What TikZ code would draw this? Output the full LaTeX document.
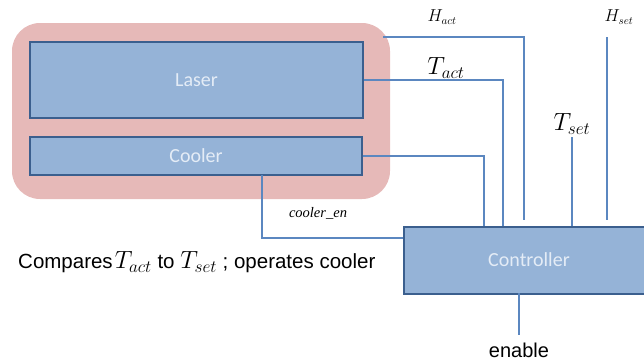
\documentclass[tikz,border=0pt]{standalone}
\usepackage{fontspec}
\setmainfont{Liberation Sans}
\newfontfamily\boxfont{Carlito}
\newfontfamily\labserif{Liberation Serif}
\definecolor{pinkfill}{HTML}{E6B9B8}
\definecolor{boxfill}{HTML}{95B3D7}
\definecolor{boxedge}{HTML}{3B5F8E}
\definecolor{wire}{HTML}{5B87C0}
\definecolor{boxtext}{HTML}{E4ECF6}
\newcommand{\bigmath}[1]{{\fontsize{24}{26}\selectfont$#1$}}
\begin{document}
\begin{tikzpicture}[x=1pt,y=-1pt,
  blockbox/.style={draw=boxedge,line width=1.8pt,fill=boxfill,inner sep=0pt,
    text=boxtext,font=\boxfont\fontsize{20}{24}\selectfont},
  wireline/.style={draw=wire,line width=1.2pt},
  smalllab/.style={font=\fontsize{16}{18}\selectfont,inner sep=0pt},
  biglab/.style={font=\fontsize{24}{26}\selectfont,inner sep=0pt}]
\useasboundingbox (0,0) rectangle (644,360);
% outer rounded housing
\node[fill=pinkfill,rounded corners=28pt,minimum width=378pt,minimum height=176pt,inner sep=0pt] (housing) at (201,111) {};
% blocks
\node[blockbox,minimum width=333pt,minimum height=76pt] (laser) at (196.5,80) {Laser};
\node[blockbox,minimum width=332pt,minimum height=38pt] (cooler) at (196,156) {Cooler};
\node[blockbox,minimum width=252pt,minimum height=67pt,anchor=north west] (ctrl) at (403,226) {};
\node[text=boxtext,font=\boxfont\fontsize{20}{24}\selectfont,inner sep=0pt] (ctrltext) at (529,260) {Controller};
% coordinates
\coordinate (hstart) at (383,37);
\coordinate (hactend) at (524,220);
\coordinate (hsettop) at (607,37);
\coordinate (hsetend) at (607,220);
\coordinate (tsettop) at (572,137);
\coordinate (entop) at (519,293);
\coordinate (enend) at (519,335);
% wires
\draw[wireline] (hstart) -- (hstart -| hactend) -- (hactend);
\draw[wireline] (laser.east) -- (503,80) -- (503,226);
\draw[wireline] (cooler.east) -- (484,156) -- (484,226);
\draw[wireline] (tsettop) -- (tsettop |- ctrl.north);
\draw[wireline] (hsettop) -- (hsetend);
\draw[wireline] (262,175) -- (262,238) -- (ctrl.west |- 0,238);
\draw[wireline] (entop) -- (enend);
% labels
\node[smalllab] (hact) at (442,17) {$H_{act}$};
\node[smalllab] (hset) at (619,17) {$H_{set}$};
\node[biglab] (tact) at (446,68) {$T_{act}$};
\node[biglab] (tset) at (572,124) {$T_{set}$};
\node[font=\labserif\itshape\fontsize{14.5}{16}\selectfont,inner sep=0pt] (coolen) at (318,213) {cooler\_en};
\node[font=\fontsize{20.5}{24}\selectfont,inner sep=0pt,anchor=west] (cmp) at (18,262) {Compares\kern2pt\bigmath{T_{act}} to \bigmath{T_{set}} ; operates cooler};
\node[font=\fontsize{20}{24}\selectfont,inner sep=0pt] (en) at (519,350) {enable};
\end{tikzpicture}
\end{document}
